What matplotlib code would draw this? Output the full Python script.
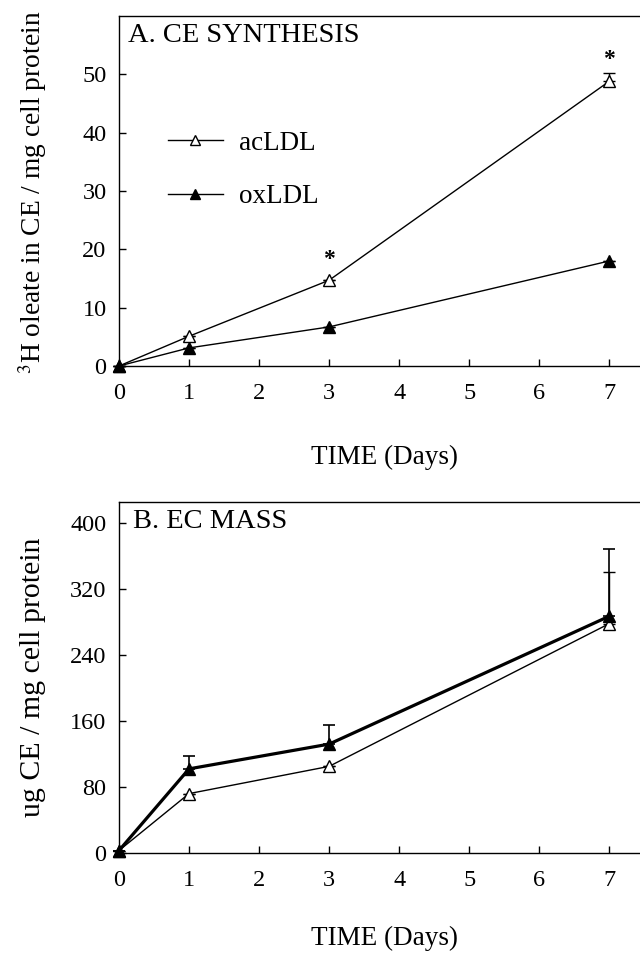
import matplotlib
matplotlib.use("Agg")
import matplotlib.pyplot as plt
from matplotlib.lines import Line2D

# ------------------------------------------------------------
# data
# ------------------------------------------------------------
days = [0, 1, 3, 7]

# panel A: 3H oleate in CE
synth_ac = [0, 5.1, 14.7, 48.8]
synth_ac_err = [0, 0, 0, 1.5]
synth_ox = [0, 3.1, 6.7, 18.0]
synth_ox_err = [0, 0, 0, 0]
synth_star_days = [3, 7]
synth_star_y = [18.3, 52.5]

# panel B: CE mass
mass_ac = [3, 72, 105, 278]
mass_ac_err = [0, 0, 0, 63]
mass_ox = [3, 102, 132, 287]
mass_ox_err = [0, 15, 23, 82]

x_ticks = [0, 1, 2, 3, 4, 5, 6, 7]
synth_yticks = [0, 10, 20, 30, 40, 50]
mass_yticks = [0, 80, 160, 240, 320, 400]

plt.rcParams['font.family'] = ['Liberation Serif', 'DejaVu Serif']
plt.rcParams['mathtext.fontset'] = 'stix'

fig = plt.figure(figsize=(6.4, 9.57), dpi=100)
# axes boxes measured in pixels: left 119, right runs off the page at 640
ax1 = fig.add_axes([119 / 640, 1 - 366 / 957, 521 / 640, 350 / 957])
ax2 = fig.add_axes([119 / 640, 1 - 853 / 957, 521 / 640, 351 / 957])


def style_axes(ax, yticks, ylim, label_y):
    ax.set_xlim(0, 7.44)
    ax.set_ylim(*ylim)
    ax.set_xticks(x_ticks)
    ax.set_yticks(yticks)
    ax.tick_params(direction='in', length=5, width=1, labelsize=17.5)
    ax.tick_params(axis='x', pad=12)
    ax.tick_params(axis='y', pad=9)
    ax.spines['right'].set_visible(False)
    for s in ['left', 'bottom', 'top']:
        ax.spines[s].set_linewidth(1.0)
    ax.set_xlabel("TIME (Days)", fontsize=19.5)
    ax.xaxis.label.set_va('center')
    ax.xaxis.set_label_coords(0.51, label_y)


# ---- panel A ----
ax1.errorbar(days, synth_ac, yerr=[[0] * 4, synth_ac_err], color='black', lw=1,
             marker='^', ms=9, mfc='white', mec='black', capsize=4, elinewidth=1,
             clip_on=False, zorder=3)
ax1.errorbar(days, synth_ox, yerr=[[0] * 4, synth_ox_err], color='black', lw=1,
             marker='^', ms=9, mfc='black', mec='black', capsize=4, elinewidth=1,
             clip_on=False, zorder=3)
for d, y in zip(synth_star_days, synth_star_y):
    ax1.text(d, y, "*", ha='center', va='center', fontsize=17, fontweight='bold')
ax1.text(0.13, 56.6, "A. CE SYNTHESIS", fontsize=20.5, va='center')
style_axes(ax1, synth_yticks, (0, 60), -0.26)
ax1.set_ylabel("$^3$H oleate in CE / mg cell protein", fontsize=19.8)
ax1.yaxis.label.set_va('center')
ax1.yaxis.set_label_coords(-0.165, 0.495)

handles = [
    Line2D([], [], color='black', lw=1, marker='^', ms=7, mfc='white', mec='black'),
    Line2D([], [], color='black', lw=1, marker='^', ms=7, mfc='black', mec='black'),
]
ax1.legend(handles, ['acLDL', 'oxLDL'], loc='center left',
           bbox_to_anchor=(0.074, 0.56), borderaxespad=0, frameon=False,
           fontsize=19.5, handlelength=2.0, labelspacing=1.05, handletextpad=0.6)

# ---- panel B ----
ax2.errorbar(days, mass_ac, yerr=[[0] * 4, mass_ac_err], color='black', lw=1,
             marker='^', ms=9, mfc='white', mec='black', capsize=4, elinewidth=1,
             clip_on=False, zorder=3)
ax2.errorbar(days, mass_ox, yerr=[[0] * 4, mass_ox_err], color='black', lw=2.3,
             marker='^', ms=9, mfc='black', mec='black', capsize=4, elinewidth=1.2,
             capthick=1.2, clip_on=False, zorder=4)
ax2.text(0.2, 402, "B. EC MASS", fontsize=20.5, va='center')
style_axes(ax2, mass_yticks, (0, 425.5), -0.242)
ax2.set_ylabel("ug CE / mg cell protein", fontsize=21.5)
ax2.yaxis.label.set_va('center')
ax2.yaxis.set_label_coords(-0.165, 0.5)

fig.savefig("out.png", dpi=100)
